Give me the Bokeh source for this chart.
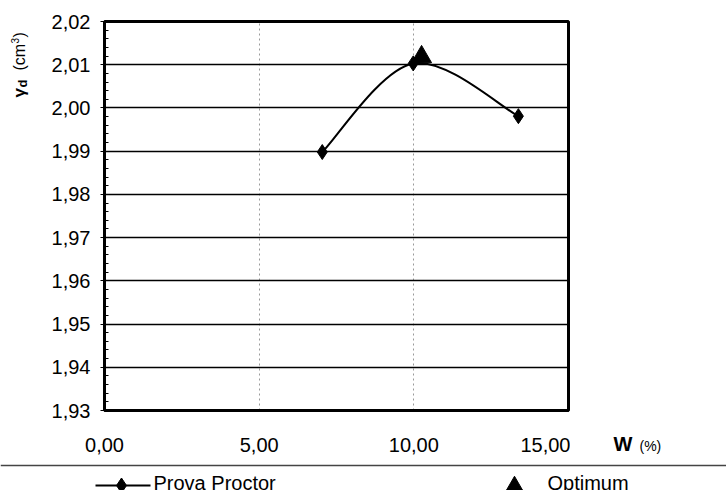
import math

from bokeh.embed import file_html
from bokeh.resources import INLINE
from bokeh.plotting import figure
from bokeh.layouts import column, row
from bokeh.models import ColumnDataSource, FixedTicker, Range1d, Span
from bokeh.core.properties import value

# --- data --------------------------------------------------------------
w_proctor = [7.04, 9.98, 13.38]          # water content W (%)
gd_proctor = [1.9898, 2.0103, 1.9981]    # dry density
w_opt = [10.25]
gd_opt = [2.0118]

x_ticks = [0, 5, 10, 15]
x_tick_labels = ["0,00", "5,00", "10,00", "15,00"]
y_ticks = [1.93, 1.94, 1.95, 1.96, 1.97, 1.98, 1.99, 2.00, 2.01, 2.02]
y_tick_labels = ["1,93", "1,94", "1,95", "1,96", "1,97", "1,98", "1,99",
                 "2,00", "2,01", "2,02"]

FONT = "Liberation Sans"
TOP_H = 461
LEG_H = 490 - TOP_H


def blank_panel(width, height, x_range, y_range):
    """A borderless figure used as a drawing surface for titles/legend."""
    f = figure(width=width, height=height, output_backend="svg",
               toolbar_location=None, x_range=x_range, y_range=y_range,
               min_border_left=0, min_border_right=0,
               min_border_top=0, min_border_bottom=0)
    f.axis.visible = False
    f.grid.visible = False
    f.outline_line_color = None
    f.background_fill_color = "white"
    f.border_fill_color = "white"
    f.frame_align = False
    return f


# --- main chart --------------------------------------------------------
p = figure(width=530, height=TOP_H, output_backend="svg", toolbar_location=None,
           x_range=Range1d(0, 15), y_range=Range1d(1.93, 2.02),
           min_border_left=64, min_border_right=2,
           min_border_top=21, min_border_bottom=51)
p.frame_align = False
p.background_fill_color = "white"
p.border_fill_color = "white"
p.outline_line_color = "black"
p.outline_line_width = 3

p.xaxis.ticker = FixedTicker(ticks=x_ticks)
p.xaxis.major_label_overrides = dict(zip(x_ticks, x_tick_labels))
p.xaxis.major_tick_out = 0
p.xaxis.major_tick_in = 0
p.xaxis.minor_tick_out = 0
p.xaxis.minor_tick_in = 0
p.xaxis.major_label_standoff = 27
p.xaxis.axis_line_width = 3

minor_y = [round(1.93 + 0.002 * i, 3) for i in range(46)]
p.yaxis.ticker = FixedTicker(ticks=y_ticks, minor_ticks=minor_y)
p.yaxis.major_label_overrides = dict(zip(y_ticks, y_tick_labels))
p.yaxis.major_tick_out = 4
p.yaxis.major_tick_in = 0
p.yaxis.minor_tick_out = 0
p.yaxis.minor_tick_in = 4
p.yaxis.major_label_standoff = 10
p.yaxis.axis_line_width = 2

for ax in (p.xaxis, p.yaxis):
    ax.major_label_text_font = FONT
    ax.major_label_text_font_size = "20px"
    ax.major_label_text_color = "black"
    ax.axis_line_color = "black"
    ax.major_tick_line_color = "black"
    ax.minor_tick_line_color = "black"

p.ygrid.grid_line_color = "black"
p.ygrid.grid_line_width = 1.5
p.xgrid.grid_line_color = "#9a9a9a"
p.xgrid.grid_line_width = 1
p.xgrid.grid_line_dash = "2 3"

# smoothed curve through the Proctor points (cubic Bezier segments)
pts = list(zip(w_proctor, gd_proctor))
n = len(pts)
seg = dict(x0=[], y0=[], x1=[], y1=[], cx0=[], cy0=[], cx1=[], cy1=[])
for i in range(n - 1):
    pa = pts[max(i - 1, 0)]
    p0 = pts[i]
    p1 = pts[i + 1]
    pb = pts[min(i + 2, n - 1)]
    seg["x0"].append(p0[0]); seg["y0"].append(p0[1])
    seg["x1"].append(p1[0]); seg["y1"].append(p1[1])
    seg["cx0"].append(p0[0] + (p1[0] - pa[0]) / 6)
    seg["cy0"].append(p0[1] + (p1[1] - pa[1]) / 6)
    seg["cx1"].append(p1[0] - (pb[0] - p0[0]) / 6)
    seg["cy1"].append(p1[1] - (pb[1] - p0[1]) / 6)
p.bezier(source=ColumnDataSource(seg), x0="x0", y0="y0", x1="x1", y1="y1",
         cx0="cx0", cy0="cy0", cx1="cx1", cy1="cy1",
         line_color="black", line_width=2)

p.scatter(w_proctor, gd_proctor, marker="diamond", size=15,
          fill_color="black", line_color="black")
p.scatter(w_opt, gd_opt, marker="triangle", size=20,
          fill_color="black", line_color="black")

# --- y-axis title strip (left) -----------------------------------------
left = blank_panel(40, TOP_H, Range1d(0, 40), Range1d(0, TOP_H))
rot = math.pi / 2


def ytitle(x, y_from_top, text, size, bold=False):
    left.text([x], [TOP_H - y_from_top], text=[text], angle=rot,
              text_font=value(FONT), text_font_size=size,
              text_font_style="bold" if bold else "normal",
              text_align="left", text_baseline="middle", text_color="black")


ytitle(19, 97, "γ", "17px", bold=True)
ytitle(22, 87, "d", "13px", bold=True)
ytitle(19, 70, "(cm", "16px")
ytitle(14, 43, "3", "10px")
ytitle(19, 37, ")", "16px")

# --- x-axis title strip (right) ----------------------------------------
right = blank_panel(156, TOP_H, Range1d(0, 156), Range1d(TOP_H, 0))
right.text([43], [443], text=["W"], text_font=value(FONT),
           text_font_size="20px", text_font_style="bold",
           text_baseline="middle", text_color="black")
right.text([69], [445], text=["(%)"], text_font=value(FONT),
           text_font_size="14px", text_baseline="middle",
           text_color="black")

# --- legend strip (bottom) ---------------------------------------------
leg = blank_panel(726, LEG_H, Range1d(0, 726), Range1d(LEG_H, 0))
leg.add_layout(Span(location=465 - TOP_H, dimension="width",
                    line_color="#444444", line_width=1.5))
sym_y = 485 - TOP_H
text_y = 482 - TOP_H
leg.line([95, 150], [sym_y, sym_y], line_color="black", line_width=2)
leg.scatter([121], [sym_y], marker="diamond", size=15,
            fill_color="black", line_color="black")
leg.text([153], [text_y], text=["Prova Proctor"], text_font=value(FONT),
         text_font_size="20px", text_baseline="middle", text_color="black")
leg.scatter([514], [sym_y], marker="triangle", size=16,
            fill_color="black", line_color="black")
leg.text([547], [text_y], text=["Optimum"], text_font=value(FONT),
         text_font_size="20px", text_baseline="middle", text_color="black")

layout = column(row(left, p, right, spacing=0), leg, spacing=0)
open("out.html", "w").write(file_html(layout, INLINE))
